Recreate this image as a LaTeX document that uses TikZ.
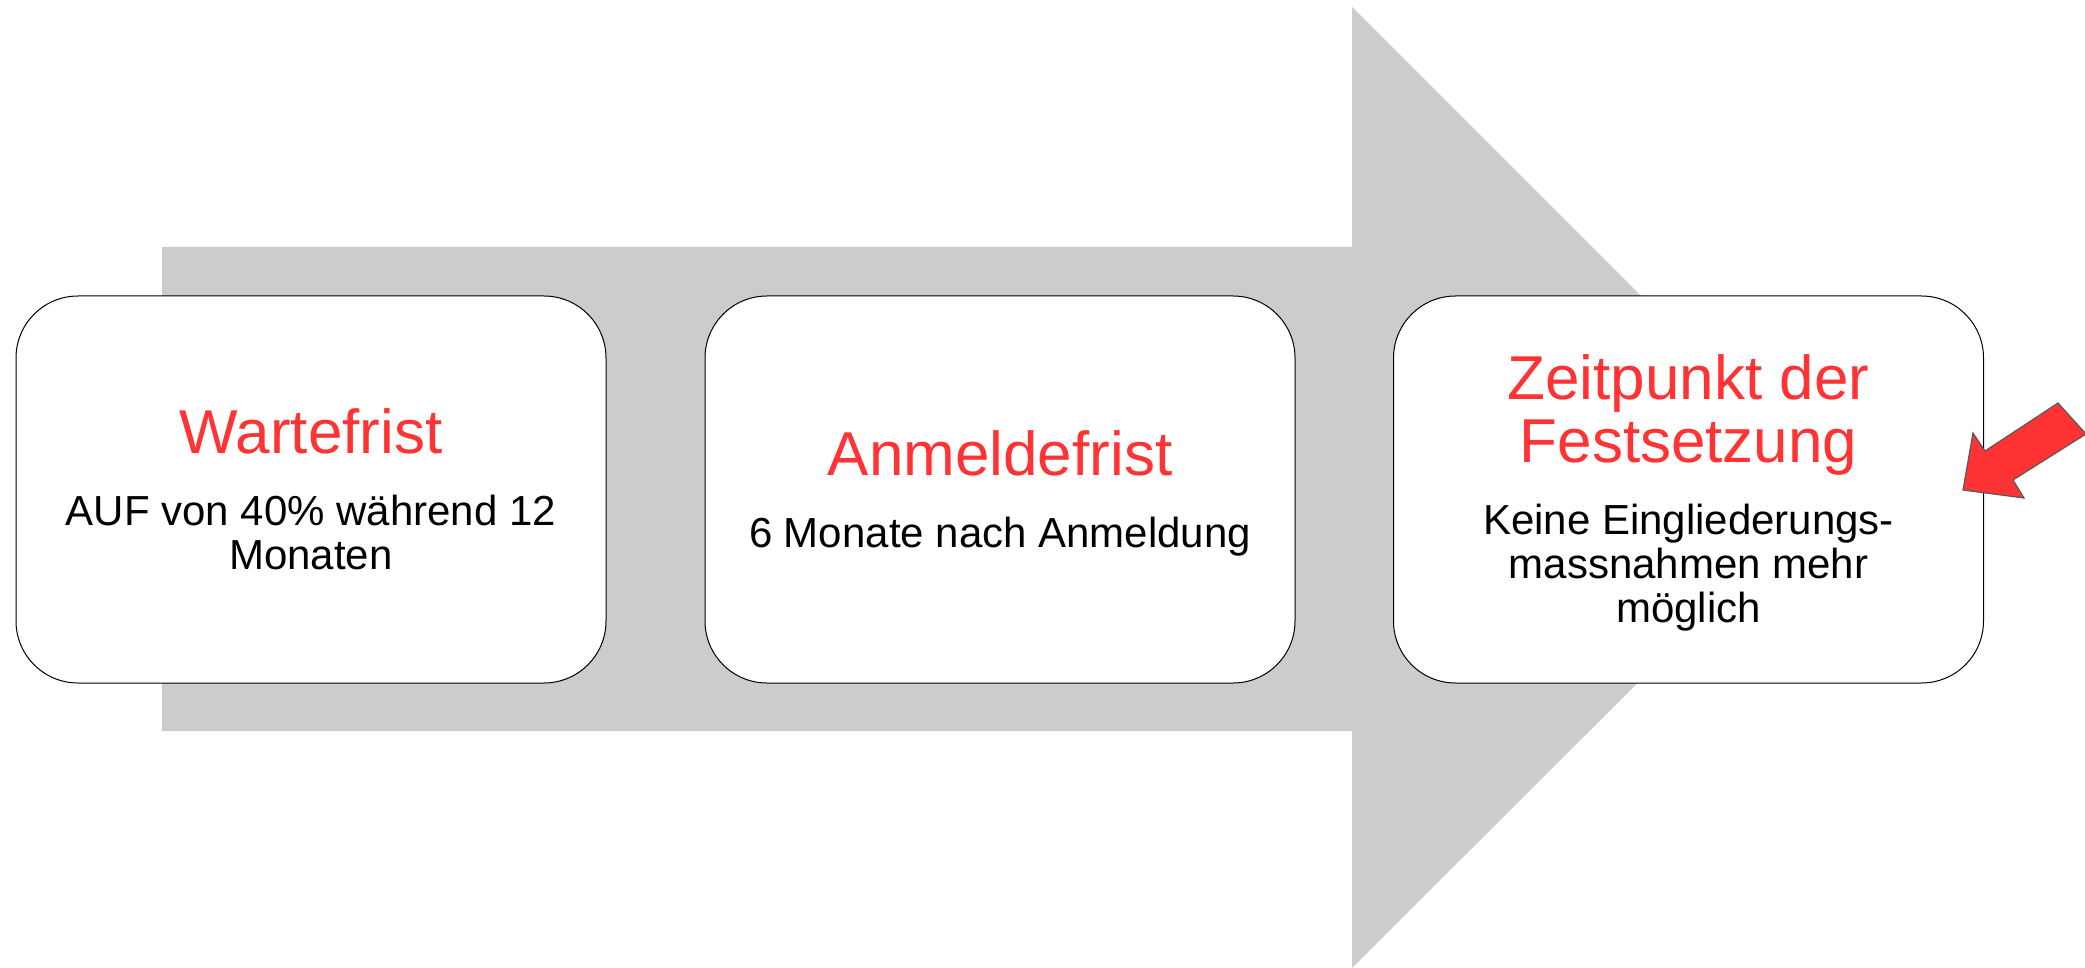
\documentclass[tikz,border=0pt]{standalone}
\usepackage{fontspec}
\setmainfont{Liberation Sans}
\definecolor{pfeilgrau}{HTML}{CCCCCC}
\definecolor{titelrot}{HTML}{FF3333}

\begin{document}
\begin{tikzpicture}[x=0.5pt,y=-0.5pt,
  box/.style={draw=black, line width=0.5pt, fill=white, rounded corners=31pt,
    minimum width=295pt, minimum height=193.5pt, inner sep=0pt},
  titel/.style={text=titelrot, font=\fontsize{31}{32}\selectfont, align=center, inner sep=0pt, anchor=base},
  inhalt/.style={text=black, font=\fontsize{21}{22}\selectfont, align=center, inner sep=0pt, anchor=base}]

\useasboundingbox (0,0) rectangle (2085,968);

% grosser Pfeil im Hintergrund
\fill[pfeilgrau] (162,247) -- (1352,247) -- (1352,7) -- (1833,488) -- (1352,968) -- (1352,731) -- (162,731) -- cycle;

% Kaesten
\node[box] (wartebox) at (311,489.5) {};
\node[box] (anmeldebox) at (1000,489.5) {};
\node[box] (festbox) at (1688.5,489.5) {};

% Texte (base = letzte Zeile)
\node[titel] (warte) at (311,453) {Wartefrist};
\node[inhalt] (warteinfo) at (311,569) {AUF von 40\% während 12\\Monaten};

\node[titel] (anmelde) at (1000,475) {Anmeldefrist};
\node[inhalt] (anmeldeinfo) at (1000,547) {6 Monate nach Anmeldung};

\node[titel] (fest) at (1688.5,463) {Zeitpunkt der\\Festsetzung};
\node[inhalt] (festinfo) at (1688.5,622) {Keine Eingliederungs-\\massnahmen mehr\\möglich};

% roter Hinweispfeil
\draw[fill=titelrot, draw=black!65, line width=0.6pt] (2058,403) -- (2086,434) -- (2013,480) -- (2024,498) -- (1963,490) -- (1973,433) -- (1985,451) -- cycle;

\end{tikzpicture}
\end{document}
